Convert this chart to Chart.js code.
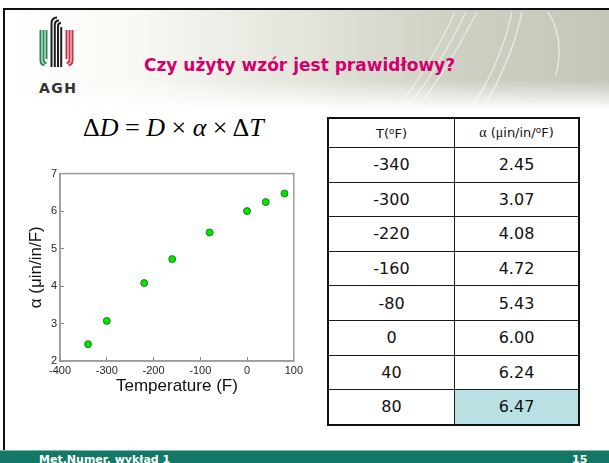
<!DOCTYPE html>
<html>
<head>
<meta charset="utf-8">
<script src="https://cdn.jsdelivr.net/npm/chart.js@4.4.1/dist/chart.umd.min.js"></script>
<style>
  html, body { margin: 0; padding: 0; }
  body { width: 609px; height: 463px; overflow: hidden; background: #fff; position: relative; font-family: "DejaVu Sans", Verdana, sans-serif; }
  #head { position: absolute; left: 5px; top: 10px; width: 604px; height: 100px;
    background: linear-gradient(to right, #ffffff 0%, #f8f8f4 22%, #e3e4da 50%, #cdd0c3 75%, #c3c6b8 100%); }
  #headfade { position: absolute; left: 5px; top: 80px; width: 604px; height: 30px;
    background: linear-gradient(to bottom, rgba(255,255,255,0), #ffffff); }
  #deco { position: absolute; left: 0; top: 0; }
  #topline { position: absolute; left: 3px; top: 8px; width: 606px; height: 2px; background: #111; }
  #leftline { position: absolute; left: 3px; top: 8px; width: 2px; height: 442px; background: #111; }
  #agh { position: absolute; left: 39px; top: 80px; font-weight: bold; font-size: 14px; letter-spacing: 1.5px; color: #333; }
  #title { position: absolute; left: 144px; top: 54px; line-height: 22px; font-weight: bold; font-size: 17px; color: #d1006e; white-space: nowrap; }
  #formula { position: absolute; left: 83px; top: 114px; line-height: 28px; font-family: "Liberation Serif", "Times New Roman", serif; font-size: 26px; color: #000; white-space: nowrap; }
  #formula i { font-style: italic; }
  #chartbox { position: absolute; left: 10px; top: 160px; width: 300px; height: 240px; }
  #tbl { position: absolute; left: 327px; top: 117px; border-collapse: collapse; border: 2px solid #111; }
  #tbl td { border: 1px solid #1a1a1a; text-align: center; padding: 0; color: #111; }
  #tbl td.c1 { width: 125px; }
  #tbl td.c2 { width: 123px; }
  #tbl tr.hd td { height: 28px; font-size: 13px; }
  #tbl tr.rw td { height: 33.6px; font-size: 16px; }
  #tbl td.hl { background: #b9e0e2; }
  #tbl .sym { font-family: "Liberation Serif", serif; font-size: 14px; }
  #tbl sup { font-size: 9px; vertical-align: 4px; }
  #foot { position: absolute; left: 0; top: 450px; width: 609px; height: 13px; background: #137866; border-top: 1px solid #7fb8ac; }
  #footl { position: absolute; left: 39px; top: 454px; font-size: 11px; line-height: 11px; font-weight: bold; color: #fff; }
  #footr { position: absolute; left: 572px; top: 454px; font-size: 11px; line-height: 11px; font-weight: bold; color: #fff; }
</style>
</head>
<body>
<div id="head"></div>
<svg id="deco" width="609" height="463">
  <g fill="none" stroke="#eef0e8" stroke-width="1.5" opacity="0.8">
    <path d="M395 110 C 420 80, 440 45, 455 12"/>
    <path d="M405 110 C 430 80, 450 45, 466 12"/>
    <path d="M415 110 C 440 80, 460 45, 477 12"/>
    <path d="M470 110 C 490 80, 505 45, 512 12"/>
    <path d="M482 110 C 500 80, 515 45, 522 12"/>
    <path d="M548 12 C 560 30, 562 50, 556 75"/>
  </g>
</svg>
<div id="headfade"></div>
<div id="topline"></div>
<div id="leftline"></div>
<svg style="position:absolute;left:0;top:0" width="100" height="100">
  <g fill="none" stroke-width="2">
    <path d="M40.5 30 V60 Q40.5 65 44.5 65" stroke="#2a8a55"/>
    <path d="M43.5 30 V60 Q43.5 63 46.5 63" stroke="#2a8a55"/>
    <path d="M46.5 30 V59" stroke="#2a8a55"/>
    <path d="M51.5 67 V24 Q51.5 17.5 57 17.5" stroke="#1e1e1e"/>
    <path d="M54.8 67 V25 Q54.8 20.5 59 20.5" stroke="#1e1e1e"/>
    <path d="M58 67 V26 Q58 23 61 23" stroke="#1e1e1e"/>
    <path d="M61.2 67 V27" stroke="#1e1e1e"/>
    <path d="M66.5 30 V59" stroke="#c8354b"/>
    <path d="M69.5 30 V60 Q69.5 63 66.5 63" stroke="#c8354b"/>
    <path d="M72.5 30 V60 Q72.5 65 68.5 65" stroke="#c8354b"/>
  </g>
</svg>
<div id="agh">AGH</div>
<div id="title">Czy użyty wzór jest prawidłowy?</div>
<div id="formula">&Delta;<i>D</i> = <i>D</i> &times; <i>&alpha;</i> &times; &Delta;<i>T</i></div>
<div id="chartbox"><canvas id="chart" width="300" height="240"></canvas></div>
<table id="tbl"></table>
<div id="foot"></div>
<div id="footl">Met.Numer. wykład 1</div>
<div id="footr">15</div>
<script>
// measured values T (F) and alpha (uin/in/F)
const temps = [-340, -300, -220, -160, -80, 0, 40, 80]
const alphas = [2.45, 3.07, 4.08, 4.72, 5.43, 6.00, 6.24, 6.47]
const xTicks = [-400, -300, -200, -100, 0, 100]
const yTicks = [2, 3, 4, 5, 6, 7]

// table from the same arrays
const tbl = document.getElementById('tbl')
let rows = '<tr class="hd"><td class="c1">T(<sup>o</sup>F)</td><td class="c2"><span class="sym">α</span> (<span class="sym">μ</span>in/in/<sup>o</sup>F)</td></tr>'
temps.forEach((t, i) => {
  const last = i === temps.length - 1
  rows += '<tr class="rw"><td class="c1">' + t + '</td><td class="c2' + (last ? ' hl' : '') + '">' + alphas[i].toFixed(2) + '</td></tr>'
})
tbl.innerHTML = rows

const boxPlugin = {
  id: 'box',
  beforeDatasetsDraw(chart) {
    const { ctx, chartArea: a } = chart
    ctx.save()
    ctx.strokeStyle = '#9c9c9c'
    ctx.lineWidth = 1.5
    ctx.strokeRect(a.left, a.top, a.right - a.left, a.bottom - a.top)
    ctx.restore()
  }
}

const tickFont = { family: '"Liberation Sans", Arial, sans-serif', size: 11 }
const titleFont = { family: '"Liberation Sans", Arial, sans-serif', size: 17 }

new Chart(document.getElementById('chart'), {
  type: 'scatter',
  data: {
    datasets: [{
      data: temps.map((t, i) => ({ x: t, y: alphas[i] })),
      pointRadius: 3.5,
      pointBackgroundColor: '#00e600',
      pointBorderColor: '#1d5e1d',
      pointBorderWidth: 0.8
    }]
  },
  options: {
    responsive: false,
    animation: false,
    devicePixelRatio: 1,
    layout: { padding: { left: 0, top: 13, right: 16, bottom: 0 } },
    plugins: { legend: { display: false }, tooltip: { enabled: false } },
    scales: {
      x: {
        type: 'linear',
        min: -400,
        max: 100,
        afterBuildTicks: s => { s.ticks = xTicks.map(v => ({ value: v })) },
        afterFit: s => { s.height = 39 },
        grid: { drawOnChartArea: false, tickLength: -4, color: '#888', lineWidth: 1 },
        border: { color: '#9c9c9c', width: 1.5 },
        ticks: { padding: 7, color: '#262626', font: tickFont, maxRotation: 0, autoSkip: false },
        title: { display: true, text: 'Temperature (F)', color: '#111', font: titleFont, padding: { top: 0, bottom: 3 } }
      },
      y: {
        min: 2,
        max: 7,
        afterBuildTicks: s => { s.ticks = yTicks.map(v => ({ value: v })) },
        afterFit: s => { s.width = 50 },
        grid: { drawOnChartArea: false, tickLength: -4, color: '#888', lineWidth: 1 },
        border: { color: '#9c9c9c', width: 1.5 },
        ticks: { padding: 7, color: '#262626', font: tickFont },
        title: { display: true, text: 'α (μin/in/F)', color: '#111', font: titleFont, padding: { top: 16, bottom: 0 } }
      }
    }
  },
  plugins: [boxPlugin]
})
</script>
</body>
</html>
